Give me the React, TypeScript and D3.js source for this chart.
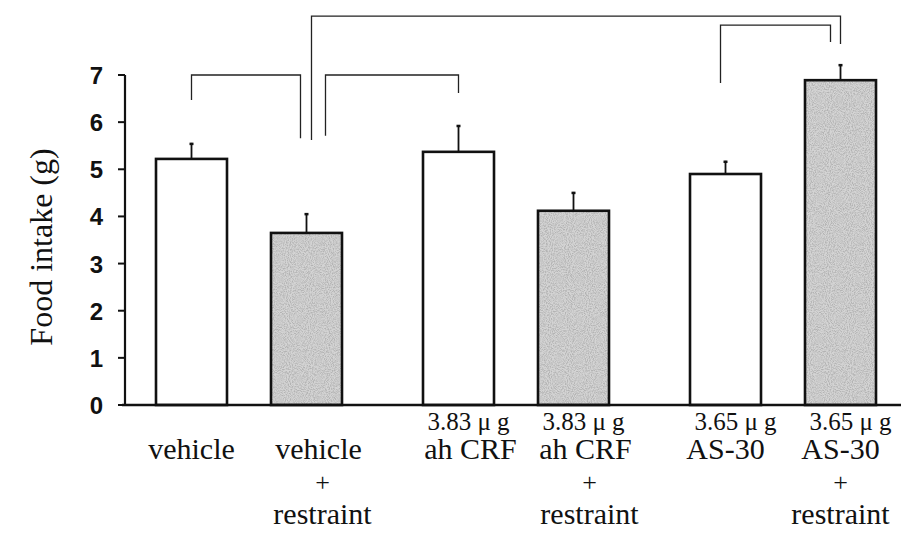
import React, { useEffect, useRef } from 'react';
import * as d3 from 'd3';

// bar data (g)
const groups = ['vehicle', 'ahCRF', 'AS30'];
const conditions = ['control', 'restraint'];
const means = [5.22, 3.65, 5.37, 4.12, 4.9, 6.89];
const sems = [0.34, 0.42, 0.57, 0.4, 0.28, 0.34];
const doseLabels = ['', '', '3.83 μ g', '3.83 μ g', '3.65 μ g', '3.65 μ g'];
const nameLabels = ['vehicle', 'vehicle', 'ah CRF', 'ah CRF', 'AS-30', 'AS-30'];
const yTicks = [0, 1, 2, 3, 4, 5, 6, 7];

// significance brackets: bar index from/to, top level, leg bottoms (data units)
const bracketFrom = [0, 1, 1, 4];
const bracketTo = [1, 2, 5, 5];
const bracketTop = [7.0, 7.0, 8.25, 8.06];
const bracketLeftEnd = [6.47, 5.71, 5.62, 6.83];
const bracketRightEnd = [5.66, 6.62, 7.66, 7.7];
// small horizontal nudges so legs near the same bar don't overlap
const bracketNudgeL = [0, 19, 5, -5];
const bracketNudgeR = [-6, 0, 0, -10];

const W = 901, H = 537;

export default function App() {
  const ref = useRef<SVGSVGElement>(null);

  useEffect(() => {
    const svg = d3.select(ref.current);
    svg.selectAll('*').remove();

    // stipple texture for the restraint bars
    const defs = svg.append('defs');
    const filt = defs.append('filter').attr('id', 'grain')
      .attr('x', 0).attr('y', 0).attr('width', 1).attr('height', 1);
    filt.append('feTurbulence')
      .attr('type', 'fractalNoise').attr('baseFrequency', 0.95)
      .attr('numOctaves', 2).attr('seed', 3).attr('result', 'n');
    filt.append('feColorMatrix')
      .attr('in', 'n').attr('type', 'matrix')
      .attr('values', '0 0 0 0 0.45  0 0 0 0 0.45  0 0 0 0 0.45  2.6 0 0 0 -0.95')
      .attr('result', 'dots');
    filt.append('feComposite')
      .attr('in', 'dots').attr('in2', 'SourceGraphic').attr('operator', 'atop');

    const y = d3.scaleLinear().domain([0, 7]).range([405, 75]);
    const xGroup = d3.scaleBand().domain(groups).range([134, 898]).paddingInner(0.1386);
    const xInner = d3.scaleBand().domain(conditions)
      .range([0, xGroup.bandwidth()]).paddingInner(0.3826).paddingOuter(0.1913);

    const barX = (i: number) => (xGroup(groups[Math.floor(i / 2)]) as number) + (xInner(conditions[i % 2]) as number);
    const bw = xInner.bandwidth();
    const cx = (i: number) => barX(i) + bw / 2;

    // bar fills
    svg.selectAll('rect.fill')
      .data(means)
      .enter()
      .append('rect')
      .attr('class', 'fill')
      .attr('x', (d, i) => barX(i))
      .attr('y', (d) => y(d))
      .attr('width', bw)
      .attr('height', (d) => y(0) - y(d))
      .attr('fill', (d, i) => (i % 2 ? '#d4d4d4' : '#fff'))
      .attr('filter', (d, i) => (i % 2 ? 'url(#grain)' : null));
    // bar outlines
    svg.selectAll('rect.bar')
      .data(means)
      .enter()
      .append('rect')
      .attr('class', 'bar')
      .attr('x', (d, i) => barX(i))
      .attr('y', (d) => y(d))
      .attr('width', bw)
      .attr('height', (d) => y(0) - y(d))
      .attr('fill', 'none')
      .attr('stroke', '#111')
      .attr('stroke-width', 2.6);

    // error bars
    const eb = svg.append('g').attr('stroke', '#111');
    means.forEach((m, i) => {
      eb.append('line')
        .attr('x1', cx(i)).attr('x2', cx(i))
        .attr('y1', y(m)).attr('y2', y(m + sems[i]))
        .attr('stroke-width', 1.8);
      eb.append('line')
        .attr('x1', cx(i) - 2).attr('x2', cx(i) + 2)
        .attr('y1', y(m + sems[i]) + 1).attr('y2', y(m + sems[i]) + 1)
        .attr('stroke-width', 2.5);
    });

    // axes
    svg.append('line')
      .attr('x1', 122).attr('x2', W)
      .attr('y1', y(0)).attr('y2', y(0))
      .attr('stroke', '#111').attr('stroke-width', 2.6);
    svg.append('line')
      .attr('x1', 125).attr('x2', 125)
      .attr('y1', y(7)).attr('y2', y(0))
      .attr('stroke', '#111').attr('stroke-width', 2.2);
    const tk = svg.append('g');
    yTicks.forEach((t) => {
      tk.append('line')
        .attr('x1', 118).attr('x2', 125)
        .attr('y1', y(t)).attr('y2', y(t))
        .attr('stroke', '#111').attr('stroke-width', 2);
      tk.append('text')
        .attr('x', 103).attr('y', y(t) + 9)
        .attr('text-anchor', 'end')
        .attr('font-family', 'Liberation Sans, Arial, sans-serif')
        .attr('font-weight', 'bold')
        .attr('font-size', 24)
        .attr('fill', '#111')
        .text(t);
    });

    // y title
    svg.append('text')
      .attr('transform', 'translate(52,247) rotate(-90)')
      .attr('text-anchor', 'middle')
      .attr('font-family', 'Liberation Serif, Times New Roman, serif')
      .attr('font-size', 32)
      .attr('fill', '#111')
      .text('Food intake (g)');

    // category labels
    const lab = svg.append('g')
      .attr('font-family', 'Liberation Serif, Times New Roman, serif')
      .attr('fill', '#111')
      .attr('text-anchor', 'middle');
    means.forEach((m, i) => {
      if (doseLabels[i]) {
        lab.append('text').attr('x', cx(i) + 10).attr('y', 430)
          .attr('font-size', 25).text(doseLabels[i]);
      }
      lab.append('text').attr('x', cx(i) + (i > 0 && i < 4 ? 12 : 0)).attr('y', 459)
        .attr('font-size', 30).text(nameLabels[i]);
      if (conditions[i % 2] === 'restraint') {
        lab.append('text').attr('x', cx(i) + (i < 4 ? 16 : 0)).attr('y', 491)
          .attr('font-size', 26).text('+');
        lab.append('text').attr('x', cx(i) + (i < 4 ? 16 : 0)).attr('y', 524)
          .attr('font-size', 30).text('restraint');
      }
    });

    // brackets
    const br = svg.append('g')
      .attr('fill', 'none')
      .attr('stroke', '#222')
      .attr('stroke-width', 1.3);
    bracketFrom.forEach((f, k) => {
      const x1 = cx(f) + bracketNudgeL[k];
      const x2 = cx(bracketTo[k]) + bracketNudgeR[k];
      const path = d3.path();
      path.moveTo(x1, y(bracketLeftEnd[k]));
      path.lineTo(x1, y(bracketTop[k]));
      path.lineTo(x2, y(bracketTop[k]));
      path.lineTo(x2, y(bracketRightEnd[k]));
      br.append('path').attr('d', path.toString());
    });
  }, []);

  return (
    <svg ref={ref} width={W} height={H}
      style={{ position: 'absolute', left: 0, top: 0, background: '#fff' }} />
  );
}
